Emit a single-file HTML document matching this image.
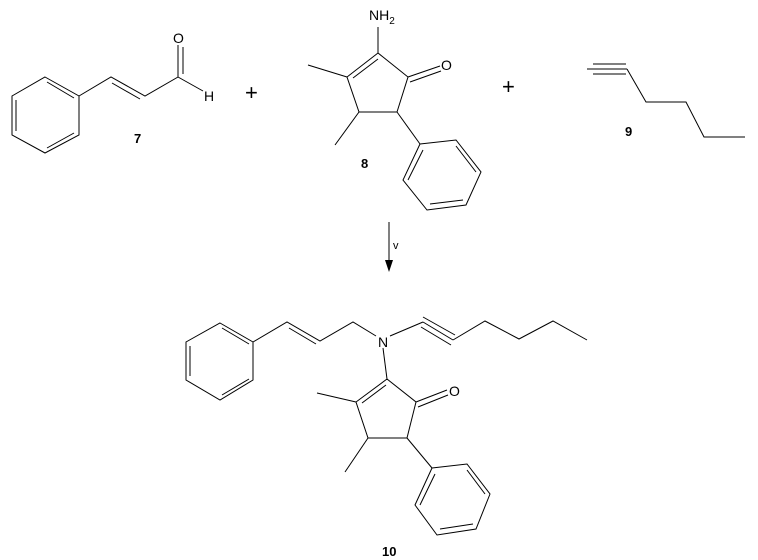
<!DOCTYPE html>
<html><head><style>body{margin:0;background:#fff}svg{display:block}</style></head><body>
<svg width="758" height="560" viewBox="0 0 758 560" xmlns="http://www.w3.org/2000/svg">
<g stroke="#000" stroke-width="1" fill="none">
<!-- 7 -->
<polygon points="45,77 79,96 79,135 45,153 12,135 12,96"/>
<line x1="16" y1="100" x2="16" y2="131"/>
<line x1="47" y1="82" x2="74" y2="98"/>
<line x1="47" y1="148" x2="74" y2="133"/>
<polyline points="79,96 111,77 145,96 178,77 178,45"/>
<line x1="112" y1="83" x2="140" y2="99"/>
<line x1="183" y1="74" x2="183" y2="47"/>
<line x1="178" y1="77" x2="203" y2="91"/>
<!-- 8 -->
<polygon points="378,53 347,77 359,112 397,112 408,77"/>
<line x1="378" y1="59" x2="353" y2="78"/>
<line x1="378" y1="53" x2="378" y2="27"/>
<line x1="347" y1="77" x2="308" y2="65"/>
<line x1="359" y1="112" x2="335" y2="145"/>
<line x1="408" y1="77" x2="440" y2="66"/>
<line x1="410" y1="82" x2="441" y2="71"/>
<line x1="397" y1="112" x2="420" y2="144"/>
<polygon points="420,144 456,140 481,172 466,205 427,210 403,180"/>
<line x1="423" y1="150" x2="408" y2="180"/>
<line x1="456" y1="146" x2="476" y2="172"/>
<line x1="463" y1="200" x2="430" y2="204"/>
<!-- 9 -->
<line x1="587" y1="69" x2="627" y2="69"/>
<line x1="593" y1="64" x2="626" y2="64"/>
<line x1="593" y1="74" x2="626" y2="74"/>
<polyline points="627,69 646,102 686,102 704,137 745,137"/>
<!-- arrow -->
<line x1="389" y1="222" x2="389" y2="262"/>
<!-- 10 -->
<polygon points="220,323 253,342 253,380 220,400 186,380 186,342"/>
<line x1="190" y1="346" x2="190" y2="376"/>
<line x1="222" y1="328" x2="249" y2="344"/>
<line x1="222" y1="395" x2="249" y2="379"/>
<polyline points="253,342 287,322 320,341 353,322 376,336"/>
<line x1="289" y1="328" x2="316" y2="344"/>
<line x1="390" y1="336" x2="423" y2="322"/>
<line x1="423" y1="322" x2="453" y2="340"/>
<line x1="423" y1="317" x2="455" y2="335"/>
<line x1="421" y1="327" x2="451" y2="345"/>
<polyline points="453,340 485,321 519,339 553,321 587,340"/>
<line x1="383" y1="348" x2="387" y2="379"/>
<polygon points="387,379 356,402 368,438 407,438 416,402"/>
<line x1="386" y1="385" x2="362" y2="403"/>
<line x1="356" y1="402" x2="317" y2="393"/>
<line x1="368" y1="438" x2="345" y2="472"/>
<line x1="416" y1="402" x2="447" y2="390"/>
<line x1="418" y1="407" x2="448" y2="395"/>
<line x1="407" y1="438" x2="432" y2="468"/>
<polygon points="432,468 467,464 490,494 476,529 437,535 415,505"/>
<line x1="435" y1="474" x2="420" y2="505"/>
<line x1="467" y1="470" x2="485" y2="494"/>
<line x1="473" y1="524" x2="440" y2="529"/>
</g>
<polygon points="385,260 393,260 389,272" fill="#000"/>
<g font-family="Liberation Sans, sans-serif" font-size="14" fill="#000">
<text x="173" y="43">O</text>
<text x="204" y="101">H</text>
<text x="369" y="20">NH<tspan font-size="10" dy="4">2</tspan></text>
<text x="441" y="70">O</text>
<text x="378" y="347">N</text>
<text x="449" y="396">O</text>
<text x="393" y="249" font-size="11">v</text>
<text x="245" y="100" font-size="22">+</text>
<text x="502" y="94" font-size="22">+</text>
</g>
<g font-family="Liberation Sans, sans-serif" font-size="13" font-weight="bold" fill="#000">
<text x="134" y="143">7</text>
<text x="361" y="168">8</text>
<text x="625" y="136">9</text>
<text x="382" y="556">10</text>
</g>
</svg>
</body></html>
